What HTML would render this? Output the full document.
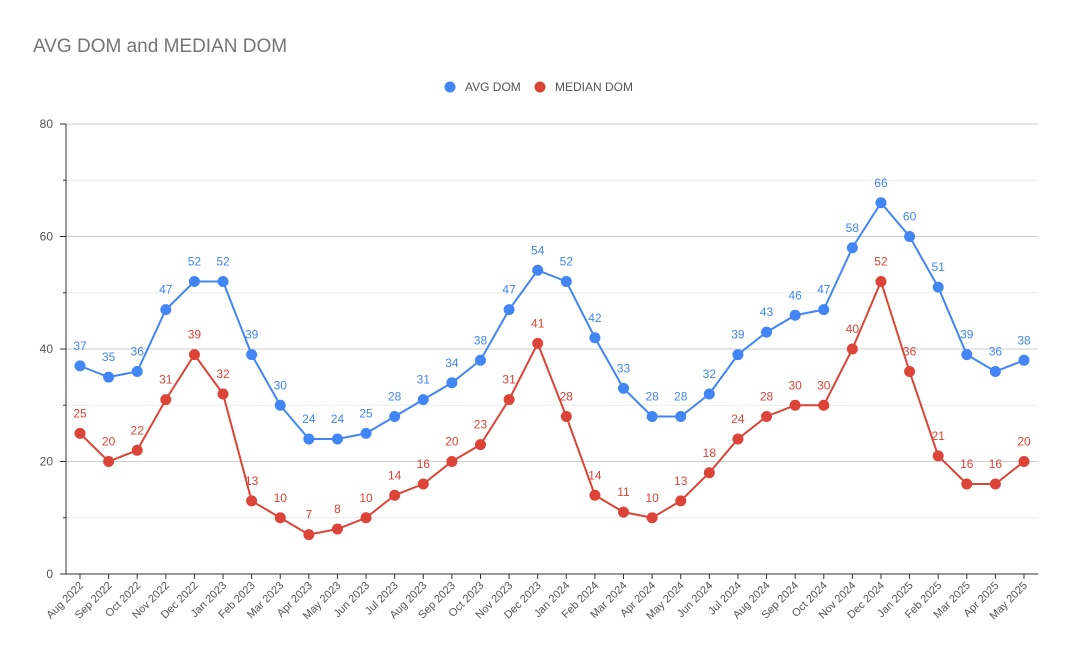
<!DOCTYPE html>
<html><head><meta charset="utf-8">
<style>
body{margin:0;background:#fff;font-family:"Liberation Sans",Arial,sans-serif;}
svg{display:block}
</style></head>
<body>
<svg id="chart" width="1072" height="663" xmlns="http://www.w3.org/2000/svg" font-family="Liberation Sans, Arial, sans-serif">
<rect width="1072" height="663" fill="#fff"/>
<text x="33" y="52" font-size="19" fill="#757575">AVG DOM and MEDIAN DOM</text>
<g>
<g><circle cx="450" cy="87" r="5.5" fill="#4285f4"/><text x="465" y="91" font-size="12" fill="#555">AVG DOM</text></g>
<g><circle cx="540" cy="87" r="5.5" fill="#db4437"/><text x="555" y="91" font-size="12" fill="#555">MEDIAN DOM</text></g>
</g>
<g id="grid"></g><g id="axes"></g><g id="series"></g>
</svg>
<script>
const categories=["Aug 2022","Sep 2022","Oct 2022","Nov 2022","Dec 2022","Jan 2023","Feb 2023","Mar 2023","Apr 2023","May 2023","Jun 2023","Jul 2023","Aug 2023","Sep 2023","Oct 2023","Nov 2023","Dec 2023","Jan 2024","Feb 2024","Mar 2024","Apr 2024","May 2024","Jun 2024","Jul 2024","Aug 2024","Sep 2024","Oct 2024","Nov 2024","Dec 2024","Jan 2025","Feb 2025","Mar 2025","Apr 2025","May 2025"];
const avgDom=[37,35,36,47,52,52,39,30,24,24,25,28,31,34,38,47,54,52,42,33,28,28,32,39,43,46,47,58,66,60,51,39,36,38];
const medianDom=[25,20,22,31,39,32,13,10,7,8,10,14,16,20,23,31,41,28,14,11,10,13,18,24,28,30,30,40,52,36,21,16,16,20];
const yTicks=[0,20,40,60,80];
const yMinor=[10,30,50,70];
const NS="http://www.w3.org/2000/svg";
const X0=66,X1=1038,Y0=574,Y1=124,YMAX=80;
const step=(1024-80)/(categories.length-1);
const xs=i=>80+i*step;
const ys=v=>Y0-(v/YMAX)*(Y0-Y1);
function mk(tag,attrs,parent,txt){const e=document.createElementNS(NS,tag);for(const k in attrs)e.setAttribute(k,attrs[k]);if(txt!==undefined)e.textContent=txt;parent.appendChild(e);return e;}
const grid=document.getElementById('grid'),axes=document.getElementById('axes'),ser=document.getElementById('series');
yMinor.forEach(v=>{const l=mk('line',{x1:X0,x2:X1,y1:ys(v),y2:ys(v),stroke:'#ebebeb','stroke-width':1},grid);


const t=mk('line',{x1:63,x2:66,y1:ys(v),y2:ys(v),stroke:'#333'},axes);

});
yTicks.forEach(v=>{if(v>0){const l=mk('line',{x1:X0,x2:X1,y1:ys(v),y2:ys(v),stroke:'#ccc','stroke-width':1},grid);

}
const t=mk('line',{x1:60,x2:66,y1:ys(v),y2:ys(v),stroke:'#333'},axes);


const lb=mk('text',{x:53,y:ys(v)+4,'font-size':12,fill:'#555','text-anchor':'end'},axes,String(v));

});
const ya=mk('line',{x1:66,x2:66,y1:Y1,y2:Y0,stroke:'#333'},axes);


const xa=mk('line',{x1:X0,x2:X1,y1:Y0,y2:Y0,stroke:'#333'},axes);


categories.forEach((c,i)=>{const x=xs(i);
const t=mk('line',{x1:x,x2:x,y1:Y0,y2:Y0+5,stroke:'#333'},axes);


const lb=mk('text',{x:x+4,y:Y0+12,'font-size':11,fill:'#555','text-anchor':'end',transform:`rotate(-45 ${x+4} ${Y0+12})`},axes,c);

});
function drawSeries(vals,color,name){
const g=mk('g',{},ser);


const p=mk('polyline',{points:vals.map((v,i)=>xs(i)+','+ys(v)).join(' '),fill:'none',stroke:color,'stroke-width':2},g);


vals.forEach((v,i)=>{const c=mk('circle',{cx:xs(i),cy:ys(v),r:5.5,fill:color},g);


const t=mk('text',{x:xs(i),y:ys(v)-16,'font-size':12,fill:color,'text-anchor':'middle'},g,String(v));

});}
drawSeries(avgDom,'#4285f4','avg-dom');
drawSeries(medianDom,'#db4437','median-dom');
</script>
</body></html>
